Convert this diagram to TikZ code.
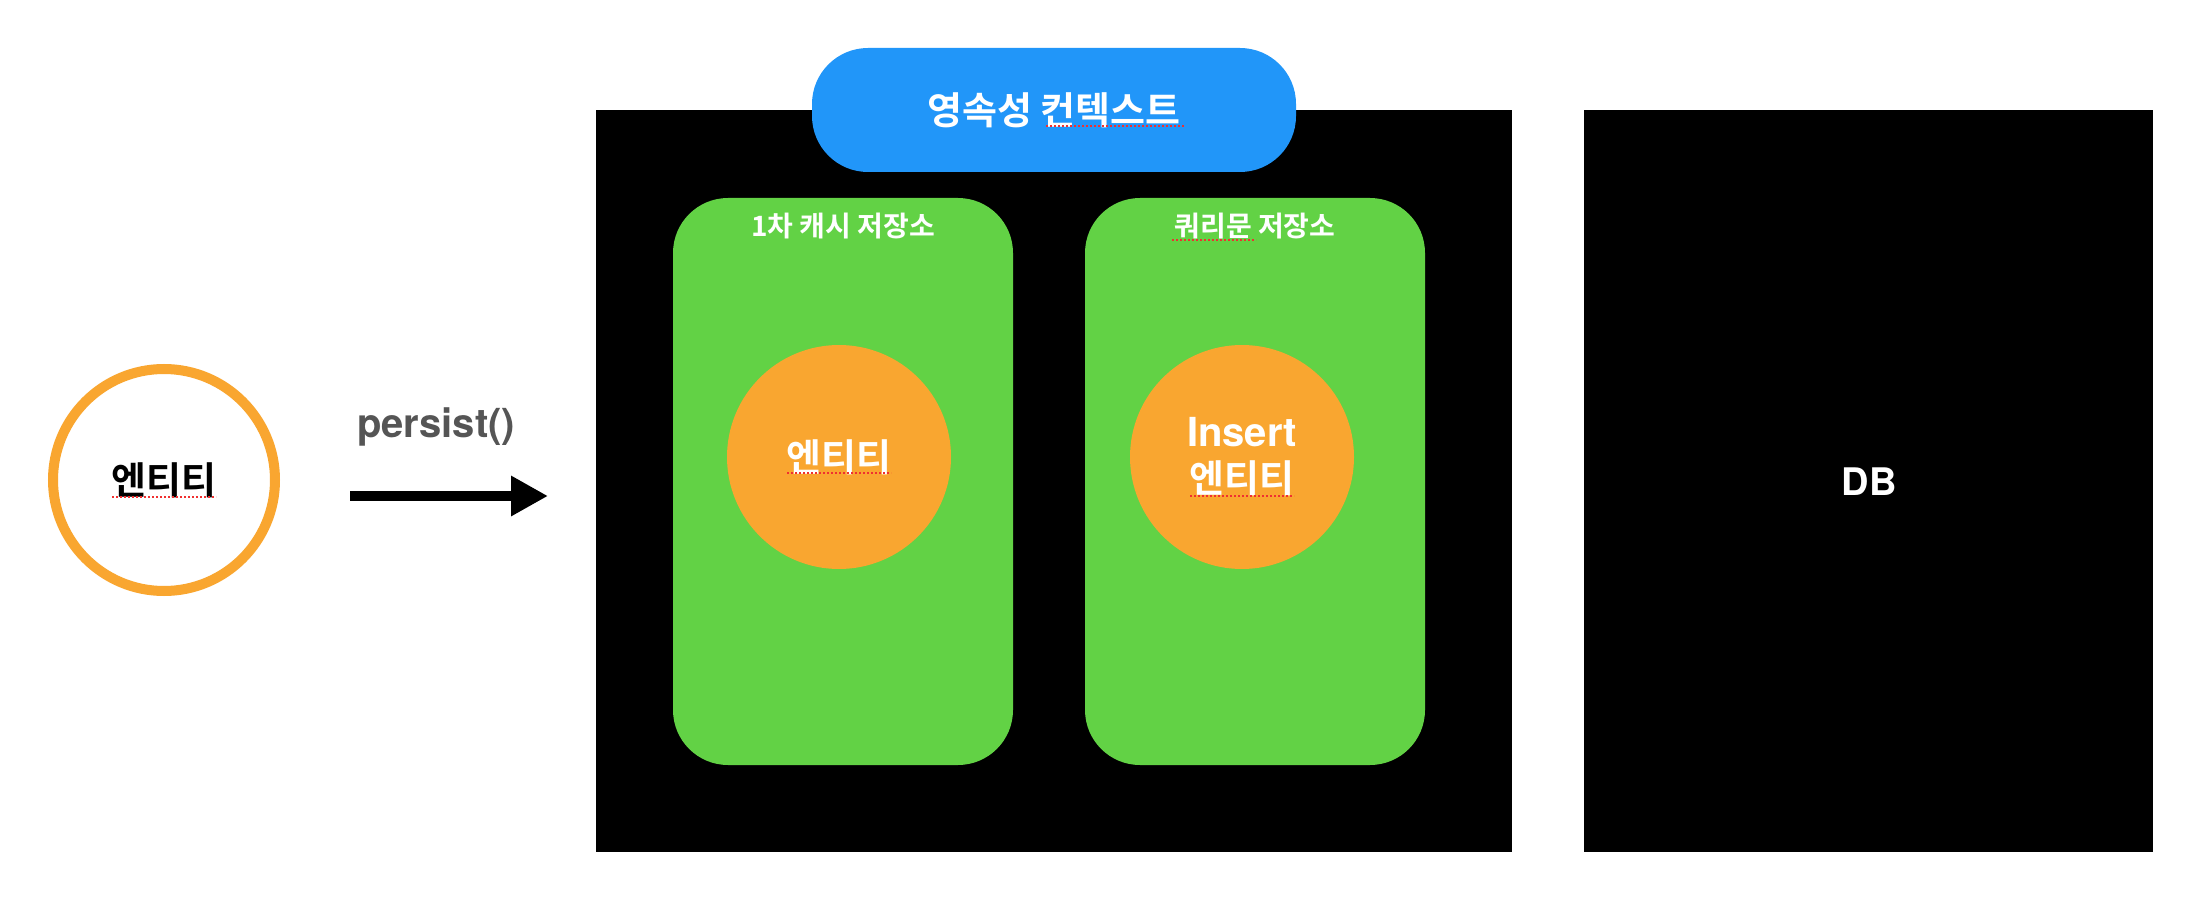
\documentclass[tikz,border=0pt]{standalone}
\usepackage{fontspec}
\setmainfont{TeX Gyre Heros}
\newfontfamily\kr{Noto Sans CJK KR}[BoldFont={Noto Sans CJK KR Bold}]
\usetikzlibrary{arrows.meta}
\definecolor{orangeC}{HTML}{F9A630}
\definecolor{greenC}{HTML}{62D245}
\definecolor{blueC}{HTML}{2196F9}
\definecolor{grayT}{HTML}{555555}
\definecolor{spellred}{HTML}{F03030}
\newcommand{\fs}[2]{\fontsize{#1pt}{#2pt}\selectfont}
\tikzset{
  blackbox/.style={fill=black, inner sep=0pt},
  greenbox/.style={fill=greenC, rounded corners=55pt, minimum width=340pt, minimum height=567pt, inner sep=0pt},
  orangeball/.style={circle, fill=orangeC, minimum size=224pt, inner sep=0pt, text=white, align=center},
  boxlabel/.style={text=white, font=\kr\bfseries\fs{28}{32}, inner sep=0pt},
  spell/.style={draw=spellred, line width=2pt, dotted},
}
\begin{document}
\begin{tikzpicture}[x=1pt,y=-1pt]
\useasboundingbox[fill=white] (0,0) rectangle (2190,920);
% entity outside
\node[circle, draw=orangeC, line width=10pt, minimum size=222pt, inner sep=0pt,
      font=\kr\bfseries\fs{38}{42}] (ent) at (164,480) {엔티티};
% persist label and arrow
\node[text=grayT, font=\bfseries\fs{40}{46}, inner sep=0pt] (plabel) at (436,427) {persist()};
\coordinate (astart) at (350,496);
\coordinate (aend) at (548,496);
\draw[line width=10pt, -{Triangle[length=37pt, width=38pt]}] (astart) -- (aend);
% persistence context box
\node[blackbox, minimum width=916pt, minimum height=742pt] (pc) at (1054,481) {};
\node[fill=blueC, rounded corners=56pt, minimum width=484pt, minimum height=124pt, inner sep=0pt,
      text=white, font=\kr\bfseries\fs{38}{42}] (ctx) at (1054,110) {영속성 컨텍스트};
% stores
\node[greenbox] (cache) at (843,481.5) {};
\node[greenbox] (query) at (1255,481.5) {};
\node[boxlabel] (cachelabel) at ([yshift=-28pt]cache.north) {1차 캐시 저장소};
\node[boxlabel] (querylabel) at ([yshift=-28pt]query.north) {쿼리문 저장소};
\node[orangeball, font=\kr\bfseries\fs{38}{42}] (e1) at (839,457) {엔티티};
\node[orangeball, font=\bfseries\fs{40}{46}] (e2) at (1242,457) {Insert\\{\kr\fontsize{38pt}{46pt}\selectfont 엔티티}};
% DB
\node[blackbox, minimum width=569pt, minimum height=742pt] (db) at (1868.5,481) {};
\node[text=white, font=\bfseries\fs{38}{44}, inner sep=0pt] (dblabel) at (1869,482) {DB};
% spell-check underlines
\draw[spell] (112,497) -- (216,497);
\draw[spell] (1046,126) -- (1184,126);
\draw[spell] (1172,240) -- (1256,240);
\draw[spell] (787,473) -- (891,473);
\draw[spell] (1190,496) -- (1294,496);
\end{tikzpicture}
\end{document}
